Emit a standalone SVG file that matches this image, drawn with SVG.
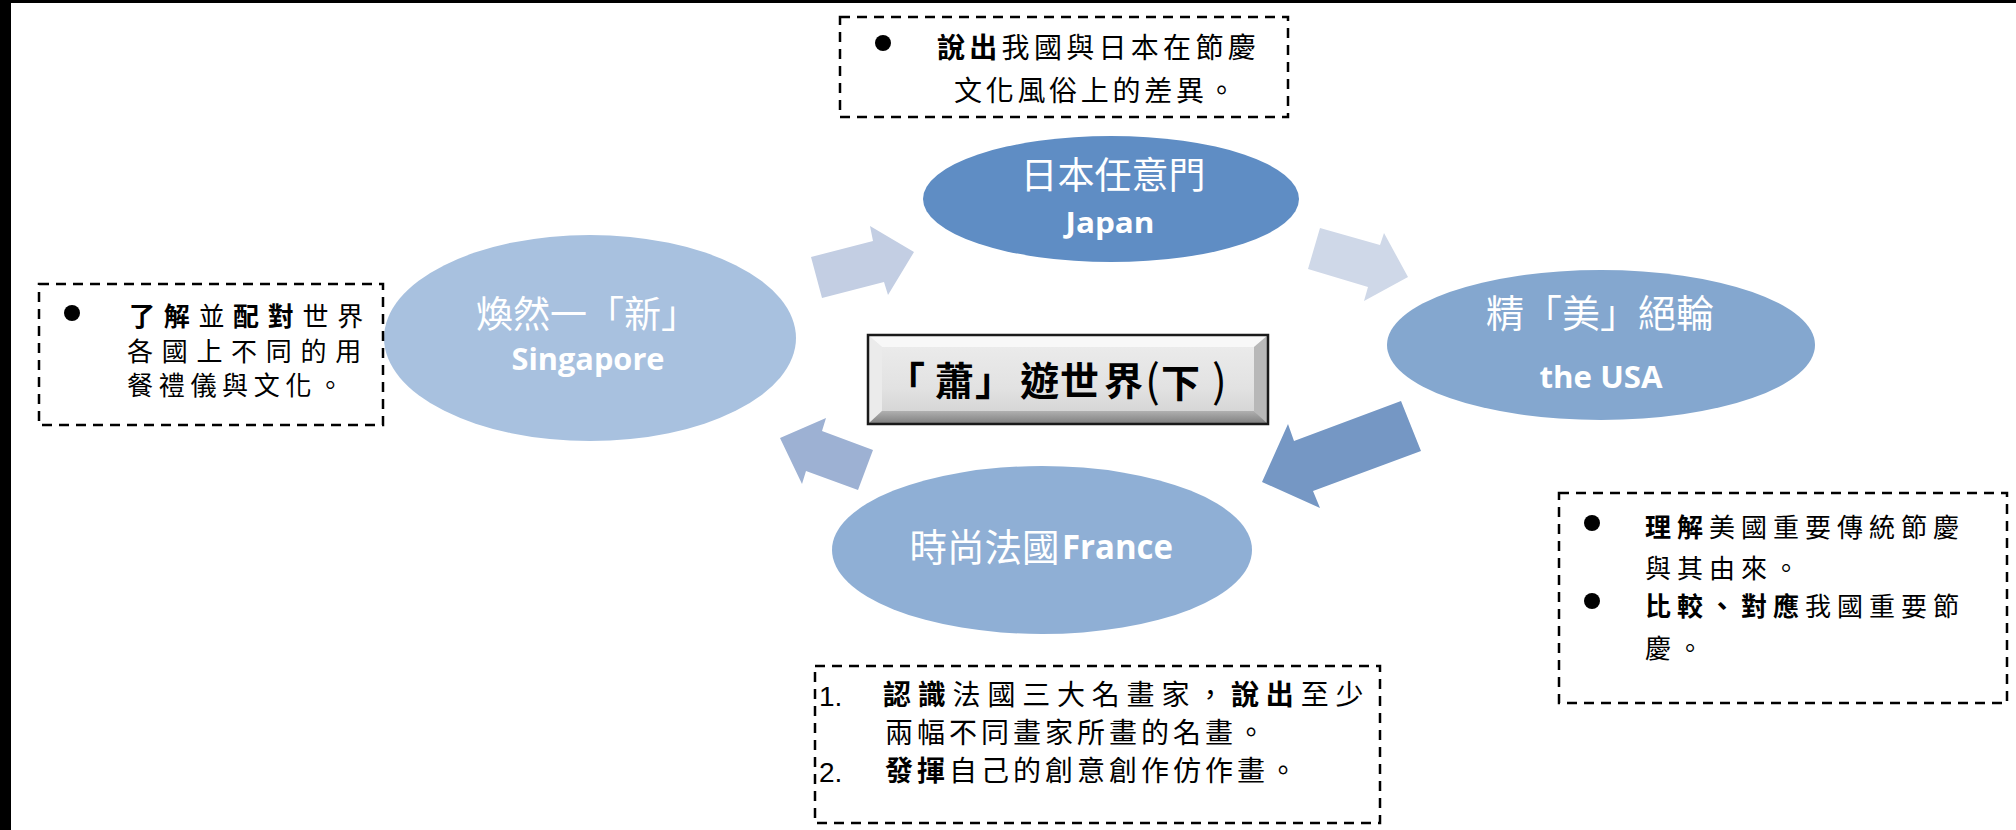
<svg xmlns="http://www.w3.org/2000/svg" width="2016" height="830" viewBox="0 0 2016 830">
<defs>
<style>
.note{font-family:"Noto Sans CJK TC","Noto Sans CJK SC",sans-serif;font-size:28px;fill:#000;}
.sm{font-size:26px;}
.b{font-weight:700;}
.box{fill:none;stroke:#000;stroke-width:2.5;stroke-dasharray:10 7;}
.dot{fill:#000;}
.num{font-family:"Liberation Sans",Arial,sans-serif;font-size:28px;fill:#000;}
.zh{font-family:"Noto Sans CJK TC","Noto Sans CJK SC",sans-serif;fill:#fff;font-weight:400;}
.en{font-family:"Open Sans","Liberation Sans",sans-serif;font-weight:700;fill:#fff;}
.mid{text-anchor:middle;}
.title{font-family:"Noto Sans CJK TC","Noto Sans CJK SC",sans-serif;font-size:39px;font-weight:700;fill:#000;}
.paren{font-size:44px;font-weight:400;}
</style>
<linearGradient id="face" x1="0" y1="0" x2="0" y2="1">
<stop offset="0" stop-color="#EDEDED"/>
<stop offset="0.6" stop-color="#E2E2E2"/>
<stop offset="1" stop-color="#CFCFCF"/>
</linearGradient>
<linearGradient id="bot" x1="0" y1="0" x2="0" y2="1">
<stop offset="0" stop-color="#B0B0B0"/>
<stop offset="1" stop-color="#7E7E7E"/>
</linearGradient>
</defs>
<rect x="0" y="0" width="2016" height="830" fill="#fff"/>
<rect x="0" y="0" width="2016" height="3" fill="#000"/>
<rect x="0" y="0" width="11" height="830" fill="#000"/>

<g id="connectors">
<polygon points="811,257 873,241 870,226 914,252 888,295 884,282 822,298" fill="#C3CEE3"/>
<polygon points="1320,228 1380,245 1384,233 1408,277 1364,301 1368,287 1308,269" fill="#CFD8E8"/>
<polygon points="1401,401 1421,451 1313,491 1320,508 1262,482 1288,424 1294,441" fill="#7597C4"/>
<polygon points="873,450 858,490 806,471 802,484 780,438 826,418 822,431" fill="#9DB1D3"/>
</g>

<g id="node-japan">
<ellipse cx="1111" cy="199" rx="188" ry="63" fill="#5F8DC4"/>
<text class="zh mid" x="1113" y="189" font-size="37">日本任意門</text>
<text class="en mid" x="1110" y="233" font-size="28" textLength="89" lengthAdjust="spacingAndGlyphs">Japan</text>
</g>

<g id="node-singapore">
<ellipse cx="590" cy="338" rx="206" ry="103" fill="#A8C1DF"/>
<text class="zh mid" x="587" y="328" font-size="37">煥然一「新」</text>
<text class="en mid" x="588" y="370" font-size="31" textLength="153" lengthAdjust="spacingAndGlyphs">Singapore</text>
</g>

<g id="node-usa">
<ellipse cx="1601" cy="345" rx="214" ry="75" fill="#84A7CF"/>
<text class="zh mid" x="1600" y="327" font-size="38">精「美」絕輪</text>
<text class="en mid" x="1601" y="388" font-size="30" textLength="123" lengthAdjust="spacingAndGlyphs">the USA</text>
</g>

<g id="node-france">
<ellipse cx="1042" cy="550" rx="210" ry="84" fill="#8FAFD5"/>
<text class="zh" x="909.5" y="561" font-size="37.5">時尚法國</text>
<text class="en" x="1062" y="559" font-size="34" font-weight="800" textLength="111" lengthAdjust="spacingAndGlyphs">France</text>
</g>

<g id="title">
<rect x="868" y="335" width="400" height="89" fill="url(#face)"/>
<polygon points="868,335 1268,335 1254,347 882,347" fill="#F8F8F8"/>
<polygon points="868,335 882,347 882,411 868,424" fill="#EBEBEB"/>
<polygon points="1268,335 1268,424 1254,411 1254,347" fill="#B8B8B8"/>
<polygon points="868,424 882,411 1254,411 1268,424" fill="url(#bot)"/>
<rect x="868" y="335" width="400" height="89" fill="none" stroke="#1A1A1A" stroke-width="2.5"/>
<text class="title" y="395"><tspan x="886">「</tspan><tspan x="935">蕭</tspan><tspan x="975">」</tspan><tspan x="1020">遊</tspan><tspan x="1060">世</tspan><tspan x="1104">界</tspan><tspan class="paren" x="1145" y="397">(</tspan><tspan x="1161">下</tspan><tspan class="paren" x="1212" y="397">)</tspan></text>
</g>

<g id="note-japan">
<rect class="box" x="840" y="17" width="448" height="100"/>
<circle class="dot" cx="883" cy="43" r="8"/>
<text class="note" x="937" y="58" letter-spacing="4.3"><tspan class="b">說出</tspan>我國與日本在節慶</text>
<text class="note" x="954" y="101" letter-spacing="3.7">文化風俗上的差異。</text>
</g>

<g id="note-singapore">
<rect class="box" x="39" y="284" width="344" height="141"/>
<circle class="dot" cx="72" cy="313" r="8"/>
<text class="note sm" x="129" y="326" letter-spacing="8.7"><tspan class="b">了解</tspan>並<tspan class="b">配對</tspan>世界</text>
<text class="note sm" x="127" y="361" letter-spacing="8.7">各國上不同的用</text>
<text class="note sm" x="127" y="395" letter-spacing="5.7">餐禮儀與文化。</text>
</g>

<g id="note-usa">
<rect class="box" x="1559" y="493" width="448" height="210"/>
<circle class="dot" cx="1592" cy="523" r="8"/>
<circle class="dot" cx="1592" cy="601" r="8"/>
<text class="note sm" x="1645" y="537" letter-spacing="6"><tspan class="b">理解</tspan>美國重要傳統節慶</text>
<text class="note sm" x="1645" y="578" letter-spacing="6">與其由來。</text>
<text class="note sm" x="1645" y="616" letter-spacing="6"><tspan class="b">比較、對應</tspan>我國重要節</text>
<text class="note sm" x="1645" y="658" letter-spacing="6">慶。</text>
</g>

<g id="note-france">
<rect class="box" x="815" y="666" width="565" height="157"/>
<text class="num" x="819" y="706">1.</text>
<text class="note" x="883" y="705" letter-spacing="6.8"><tspan class="b">認識</tspan>法國三大名畫家，<tspan class="b">說出</tspan>至少</text>
<text class="note" x="885" y="743" letter-spacing="4">兩幅不同畫家所畫的名畫。</text>
<text class="num" x="819" y="782">2.</text>
<text class="note" x="885" y="781" letter-spacing="4"><tspan class="b">發揮</tspan>自己的創意創作仿作畫。</text>
</g>
</svg>
